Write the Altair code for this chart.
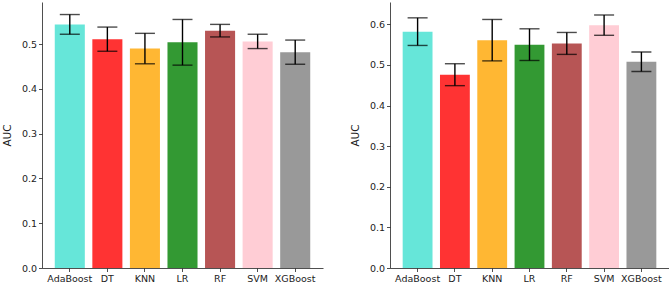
import altair as alt
import pandas as pd

models = ["AdaBoost", "DT", "KNN", "LR", "RF", "SVM", "XGBoost"]
colors = ["turquoise", "red", "orange", "green", "brown", "pink", "gray"]

auc_left = [0.544, 0.511, 0.490, 0.504, 0.530, 0.506, 0.482]
err_left = [0.022, 0.027, 0.034, 0.051, 0.014, 0.016, 0.027]

auc_right = [0.582, 0.476, 0.561, 0.550, 0.553, 0.598, 0.508]
err_right = [0.034, 0.027, 0.051, 0.039, 0.027, 0.025, 0.024]

FONT = "DejaVu Sans"


def panel(auc, err, ymax, w):
    df = pd.DataFrame({
        "model": models,
        "auc": auc,
        "lo": [a - e for a, e in zip(auc, err)],
        "hi": [a + e for a, e in zip(auc, err)],
    })
    x = alt.X("model:N", sort=models,
              scale=alt.Scale(paddingInner=0.2, paddingOuter=0.34),
              axis=alt.Axis(title=None, labelAngle=0, labelFontSize=9.5,
                            labelFont=FONT, labelColor="#222",
                            tickSize=3.5, tickColor="#222", tickWidth=0.8,
                            domainColor="#222", domainWidth=0.8,
                            labelPadding=1.5))
    yscale = alt.Scale(domain=[0, ymax], nice=False, zero=True)
    y = alt.Y("auc:Q", scale=yscale,
              axis=alt.Axis(title="AUC", titleFont=FONT, titleFontSize=10.5,
                            titleFontWeight="normal", titleColor="#222",
                            titlePadding=9, labelFont=FONT, labelFontSize=9.5,
                            labelColor="#222", format=".1f",
                            values=[0, 0.1, 0.2, 0.3, 0.4, 0.5, 0.6],
                            tickSize=3.5, tickColor="#222", tickWidth=0.8,
                            domainColor="#222", domainWidth=0.8,
                            labelPadding=2, grid=False))
    base = alt.Chart(df)
    bars = base.mark_bar(opacity=0.8).encode(
        x=x, y=y,
        color=alt.Color("model:N", scale=alt.Scale(domain=models, range=colors), legend=None),
    )
    rule = base.mark_rule(color="black", strokeWidth=1.4).encode(
        x=alt.X("model:N", sort=models), y=alt.Y("lo:Q", scale=yscale), y2="hi:Q")
    cap_lo = base.mark_tick(color="black", thickness=1.4, size=20, orient="horizontal").encode(
        x=alt.X("model:N", sort=models), y=alt.Y("lo:Q", scale=yscale))
    cap_hi = base.mark_tick(color="black", thickness=1.4, size=20, orient="horizontal").encode(
        x=alt.X("model:N", sort=models), y=alt.Y("hi:Q", scale=yscale))
    return alt.layer(bars, rule, cap_lo, cap_hi).properties(width=w, height=266)


left = panel(auc_left, err_left, 0.594, 281)
right = panel(auc_right, err_right, 0.655, 279)

chart = alt.hconcat(left, right, spacing=27).properties(
    padding={"left": 2, "top": 2, "right": 0, "bottom": 0}
).configure_view(stroke=None)

chart.save("out.html", embed_options={"renderer": "svg", "actions": False})
